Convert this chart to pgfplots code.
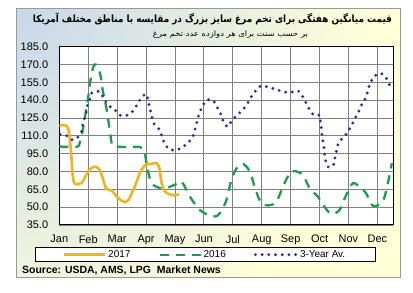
\documentclass[border=0pt]{standalone}
\usepackage{pgfplots}
\pgfplotsset{compat=1.18}
\usepackage{fontspec}
\setmainfont{Liberation Sans}
\newfontfamily\arabicfont[Script=Arabic]{DejaVu Sans}
\TeXXeTstate=1
\definecolor{bgY}{RGB}{255,255,216}
\definecolor{bgB}{RGB}{200,215,235}
\definecolor{c17}{RGB}{240,180,30}
\definecolor{c16}{RGB}{30,155,75}
\definecolor{c3y}{RGB}{38,48,155}
\begin{document}
\begin{tikzpicture}[x=1bp,y=1bp]
\path[use as bounding box] (0,0) rectangle (413,293);
\begin{scope}
\clip (16,15) rectangle (400,284);
\fill[bgY] (16,15) rectangle (400,284);
\shade[inner color=bgB, outer color=bgY] (16,284) circle (360);
\end{scope}
\draw[gray!80, line width=1bp] (16,15) rectangle (400,284);
\node[anchor=center, inner sep=0pt] at (212.5,274) {\resizebox*{359bp}{12bp}{\arabicfont\bfseries\beginR قیمت میانگین هفتگی برای تخم مرغ سایز بزرگ در مقایسه با مناطق مختلف آمریکا\endR}};
\node[anchor=center, inner sep=0pt] at (230.5,258) {\resizebox*{155bp}{7.5bp}{\arabicfont\beginR بر حسب سنت برای هر دوازده عدد تخم مرغ\endR}};
\draw[black, fill=white, line width=0.8bp] (35,31.3) rectangle (375,45.3);
\node[anchor=west, inner sep=0pt, font=\bfseries\fontsize{10.5}{12}\selectfont] at (22,22) {Source: USDA, AMS, LPG\ \ Market News};
\begin{axis}[
  at={(59.3bp,68bp)}, anchor=south west, scale only axis,
  width=334bp, height=178.3bp,
  xmin=0, xmax=11.55, ymin=35, ymax=185,
  ytick={35,50,...,185},
  xtick={0,...,11},
  xticklabels={Jan,Feb,Mar,Apr,May,Jun,Jul,Aug,Sep,Oct,Nov,Dec},
  grid=major, grid style={gray, line width=0.8bp},
  axis line style={black, line width=1bp},
  axis background/.style={fill=white},
  major tick length=0pt,
  /pgf/number format/assume math mode=true,
  tick label style={font=\fontsize{11}{13}\selectfont},
  yticklabel style={/pgf/number format/fixed, /pgf/number format/fixed zerofill, /pgf/number format/precision=1},
  yticklabel style={inner sep=0pt, anchor=east, xshift=-11bp},
  xticklabel style={inner sep=0pt, anchor=north, yshift=-10bp},
  legend columns=3,
  legend style={at={(0.436,-0.1666)}, anchor=center, draw=none, fill=none,
    font=\fontsize{10}{12}\selectfont,
    /tikz/every even column/.append style={column sep=26bp}},
  legend image code/.code={\draw[#1] (0bp,0bp) -- (41bp,0bp);},
]
\addplot[c17, line width=2.6bp, smooth, tension=0.5] coordinates {
(0,118.3) (0.2,119.1) (0.32,114.9) (0.40,98.1) (0.47,75.6) (0.55,69.5)
(0.78,70.6) (1.01,80.7) (1.22,84.1) (1.41,80.7) (1.62,65.9) (1.82,63.9)
(1.99,58.8) (2.22,54.6) (2.39,56) (2.62,68) (2.79,79) (2.97,85.5)
(3.14,86.3) (3.37,86.9) (3.46,82.7) (3.54,70.1) (3.66,63) (3.89,60.2) (4.15,60.8)
};
\addlegendentry{2017}
\addplot[c16, line width=2.3bp, dash pattern=on 9bp off 7bp, smooth, tension=0.5] coordinates {
(0,101) (0.61,100.8) (0.70,103.7) (0.78,110.7) (0.85,120.5) (0.92,130.3)
(1.01,144.4) (1.08,157) (1.18,168.2) (1.26,170) (1.41,162.6) (1.5,148.6)
(1.64,131.7) (1.76,112.1) (1.83,102.3) (1.98,101) (2.4,100.5) (2.8,100.5)
(2.95,96) (3.05,82) (3.2,70) (3.5,66) (3.8,67) (4.0,69) (4.23,71.4)
(4.52,58.8) (4.86,47.6) (5.32,42) (5.55,44.8) (5.78,56) (5.95,72.9)
(6.13,82.7) (6.36,86.3) (6.59,79.8) (6.79,64.4) (6.99,53.3) (7.25,51.5)
(7.51,54.6) (7.73,67.2) (7.97,78.5) (8.14,80.4) (8.42,77) (8.66,65.9)
(8.94,58.8) (9.17,50.4) (9.40,44.3) (9.69,47.6) (9.92,60.2) (10.15,70.1)
(10.38,67.2) (10.61,61.7) (10.84,51.2) (11.18,54.6) (11.36,70.1) (11.5,87)
};
\addlegendentry{2016}
\addplot[c3y, line width=3.2bp, line cap=round, dash pattern=on 0bp off 6.7bp, smooth, tension=0.5] coordinates {
(0.03,111.3) (0.26,110.1) (0.46,106.5) (0.66,109.3) (0.78,114.3) (0.82,121.4)
(0.91,127.5) (0.96,134.5) (1.05,140.2) (1.13,146.3) (1.39,147.1) (1.55,141)
(1.68,136) (1.93,131.7) (2.08,127.5) (2.37,127.5) (2.56,131.2) (2.70,136.8)
(2.85,142.1) (3.0,145.2) (3.08,138.7) (3.14,132.3) (3.2,126.1) (3.28,120)
(3.46,115.5) (3.55,109.3) (3.64,103.7) (3.80,98.7) (4.06,98.1) (4.29,100.9)
(4.49,105.1) (4.63,109.9) (4.70,116.3) (4.77,122.5) (4.84,129) (4.95,134.5)
(5.09,140.2) (5.32,139.6) (5.46,134) (5.58,128.4) (5.67,122.5) (5.82,117.7)
(5.98,123.3) (6.15,127.5) (6.36,132.3) (6.51,137.4) (6.64,142.9) (6.79,148)
(6.99,152.2) (7.25,150.8) (7.51,149.2) (7.73,147.1) (8.02,146.6) (8.25,148)
(8.42,142.9) (8.54,137.4) (8.66,131.7) (8.80,127.5) (9.0,127.5) (9.03,121.9)
(9.07,114.9) (9.09,108.8) (9.14,102.3) (9.17,95.8) (9.21,89.1) (9.31,83.5)
(9.48,85.5) (9.54,92.5) (9.60,98.7) (9.67,105.1) (9.84,108.8) (10.0,114.3)
(10.13,120) (10.24,125.3) (10.36,130.9) (10.47,136.8) (10.61,142.4) (10.67,148.6)
(10.76,154.7) (10.90,160.4) (11.13,162.6) (11.30,158.9) (11.41,153.4) (11.5,149)
};
\addlegendentry{3-Year Av.}
\end{axis}
\end{tikzpicture}
\end{document}
